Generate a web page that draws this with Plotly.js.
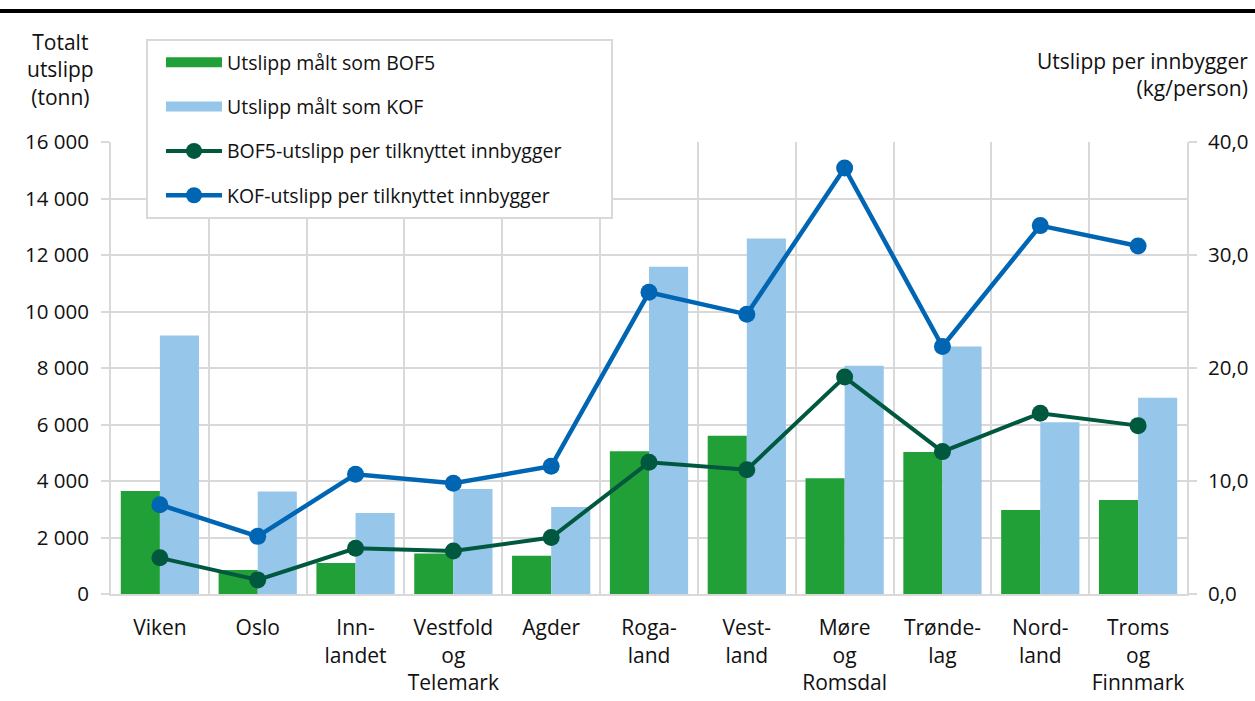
<!DOCTYPE html>
<html>
<head>
<meta charset="utf-8">
<script src="https://cdn.plot.ly/plotly-3.0.1.min.js"></script>
<style>html,body{margin:0;padding:0;background:#fff;}#chart{width:1255px;height:701px;}</style>
</head>
<body>
<div id="chart"></div>
<script>
var categories = ["Viken","Oslo","Innlandet","Vestfold og Telemark","Agder","Rogaland","Vestland","Møre og Romsdal","Trøndelag","Nordland","Troms og Finnmark"];
var categoryLabels = ["Viken","Oslo","Inn-<br>landet","Vestfold<br>og<br>Telemark","Agder","Roga-<br>land","Vest-<br>land","Møre<br>og<br>Romsdal","Trønde-<br>lag","Nord-<br>land","Troms<br>og<br>Finnmark"];
var bof5Total = [3650, 850, 1100, 1430, 1350, 5050, 5600, 4100, 5030, 2970, 3330];
var kofTotal = [9150, 3630, 2870, 3720, 3080, 11580, 12580, 8080, 8760, 6080, 6950];
var bof5PerCapita = [3.2, 1.25, 4.05, 3.8, 5.0, 11.65, 11.0, 19.2, 12.6, 16.0, 14.9];
var kofPerCapita = [7.9, 5.1, 10.6, 9.8, 11.3, 26.7, 24.75, 37.7, 21.9, 32.6, 30.8];
var leftTicks = [0, 2000, 4000, 6000, 8000, 10000, 12000, 14000, 16000];
var rightTicks = [0, 10, 20, 30, 40];

var cGreen = "#21a038", cLight = "#97c6eb", cDark = "#00583f", cBlue = "#0065b3";
var grid = "#d9d9d9";
var font = "Open Sans, Noto Sans, sans-serif";
var ink = "#111";

var traces = [
  {type:"bar", x:categories, y:bof5Total, name:"Utslipp målt som BOF5", marker:{color:cGreen}, showlegend:false, yaxis:"y", hoverinfo:"skip"},
  {type:"bar", x:categories, y:kofTotal, name:"Utslipp målt som KOF", marker:{color:cLight}, showlegend:false, yaxis:"y", hoverinfo:"skip"},
  {type:"scatter", mode:"lines", x:[null], y:[null], name:"Utslipp målt som BOF5", line:{color:cGreen, width:15}, legendgroup:"a", yaxis:"y"},
  {type:"scatter", mode:"lines", x:[null], y:[null], name:"Utslipp målt som KOF", line:{color:cLight, width:15}, legendgroup:"b", yaxis:"y"},
  {type:"scatter", mode:"lines+markers", x:categories, y:bof5PerCapita, name:"BOF5-utslipp per tilknyttet innbygger", line:{color:cDark, width:4}, marker:{color:cDark, size:17}, yaxis:"y2", legendgroup:"c"},
  {type:"scatter", mode:"lines+markers", x:categories, y:kofPerCapita, name:"KOF-utslipp per tilknyttet innbygger", line:{color:cBlue, width:4.5}, marker:{color:cBlue, size:17}, yaxis:"y2", legendgroup:"d"}
];

var L = 111, R = 1187, T = 142, B = 594;
function px(x){ return (x-L)/(R-L); }
function py(y){ return (B-y)/(B-T); }
var layout = {
  width:1255, height:701,
  margin:{l:L, r:1255-R, t:T, b:701-B, pad:0},
  paper_bgcolor:"#fff", plot_bgcolor:"#fff",
  font:{family:font, size:20, color:ink},
  separators:", ",
  barmode:"group", bargap:0.2, bargroupgap:0,
  showlegend:true,
  legend:{x:px(161), y:py(43), xanchor:"left", yanchor:"top",
    bgcolor:"rgba(0,0,0,0)", borderwidth:0, font:{size:19.5, family:font, color:ink},
    traceorder:"grouped", tracegroupgap:16, itemwidth:56},
  xaxis:{type:"category", categoryarray:categories, tickvals:categories, ticktext:categoryLabels,
    range:[-0.5, 10.5], autorange:false, tickangle:0,
    tickson:"boundaries", showgrid:true, gridcolor:grid, gridwidth:2,
    showline:true, linecolor:grid, linewidth:2, ticks:"", ticklabelstandoff:14,
    tickfont:{size:21, family:font, color:ink}, fixedrange:true},
  yaxis:{range:[0,16000], autorange:false, tickvals:leftTicks, tickformat:",d", separatethousands:true,
    showgrid:true, gridcolor:grid, gridwidth:2, zeroline:false,
    ticks:"outside", ticklen:8, tickcolor:grid, tickwidth:2, ticklabelstandoff:8,
    tickfont:{size:20.5, family:font, color:ink}, showline:true, linecolor:grid, linewidth:2},
  yaxis2:{range:[0,40], autorange:false, overlaying:"y", side:"right", tickvals:rightTicks, tickformat:".1f",
    showgrid:false, zeroline:false, ticks:"outside", ticklen:8, tickcolor:grid, tickwidth:2, ticklabelstandoff:7,
    tickfont:{size:20.5, family:font, color:ink}, showline:true, linecolor:grid, linewidth:2},
  annotations:[
    {xref:"paper", yref:"paper", x:px(60), y:py(70), xanchor:"center", yanchor:"middle", align:"center",
     text:"Totalt<br>utslipp<br>(tonn)", showarrow:false, font:{size:21, family:font, color:ink}},
    {xref:"paper", yref:"paper", x:px(1250), y:py(74.5), xanchor:"right", yanchor:"middle", align:"right",
     text:"Utslipp per innbygger<br>(kg/person)", showarrow:false, font:{size:21, family:font, color:ink}}
  ],
  shapes:[
    {type:"line", xref:"paper", yref:"paper", x0:px(0), x1:px(1255), y0:py(11), y1:py(11),
     line:{color:"#000", width:4}},
    {type:"rect", xref:"paper", yref:"paper", layer:"above", x0:px(147), x1:px(612), y0:py(218), y1:py(40),
     fillcolor:"#fff", line:{color:grid, width:2}}
  ]
};
Plotly.newPlot("chart", traces, layout, {displayModeBar:false, staticPlot:true});
</script>
</body>
</html>
